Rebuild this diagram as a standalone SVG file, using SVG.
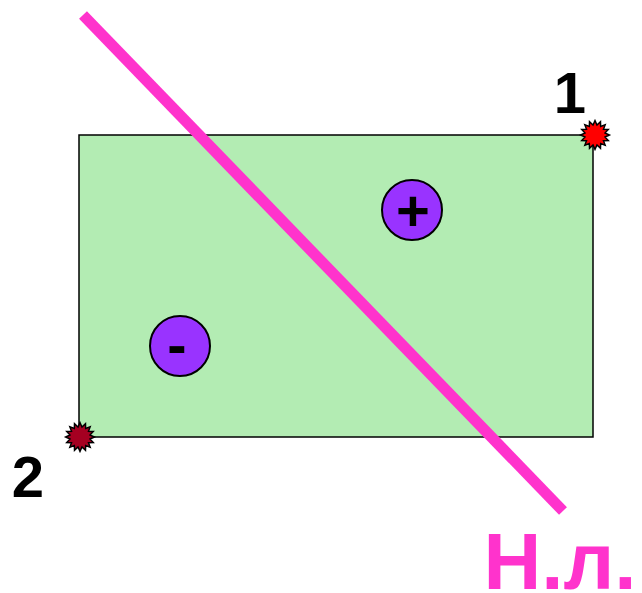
<svg xmlns="http://www.w3.org/2000/svg" width="642" height="593" viewBox="0 0 642 593">
<style>
.lbl{font-family:"Liberation Sans",Arial,sans-serif;font-weight:bold;text-anchor:middle}
.chg{fill:#9933ff;stroke:#000;stroke-width:2}
.star{stroke:#000;stroke-width:1.2}
</style>
<defs>
<polygon id="star" transform="scale(1.2)" points="12,0 8.34,1.66 11.09,4.59 7.07,4.72 8.49,8.49 4.72,7.07 4.59,11.09 1.66,8.34 0,12 -1.66,8.34 -4.59,11.09 -4.72,7.07 -8.49,8.49 -7.07,4.72 -11.09,4.59 -8.34,1.66 -12,0 -8.34,-1.66 -11.09,-4.59 -7.07,-4.72 -8.49,-8.49 -4.72,-7.07 -4.59,-11.09 -1.66,-8.34 0,-12 1.66,-8.34 4.59,-11.09 4.72,-7.07 8.49,-8.49 7.07,-4.72 11.09,-4.59 8.34,-1.66"/>
</defs>
<rect id="plate" x="79" y="135" width="514" height="302" fill="#b3ecb3" stroke="#000" stroke-width="1.5"/>
<g id="plus">
<circle class="chg" cx="412" cy="210" r="30"/>
<text class="lbl" x="413" y="231" font-size="58" fill="#000">+</text>
</g>
<g id="minus">
<circle class="chg" cx="180" cy="346" r="30"/>
<text class="lbl" x="177" y="365" font-size="58" fill="#000">-</text>
</g>
<g id="connectors">
<line x1="83" y1="15" x2="563" y2="511" stroke="#ff33cc" stroke-width="11"/>
</g>
<g id="point1">
<use href="#star" x="595" y="135" class="star" fill="#ff0000"/>
<text class="lbl" x="570" y="113" font-size="58" fill="#000">1</text>
</g>
<g id="point2">
<use href="#star" x="80" y="437" class="star" fill="#a50021"/>
<text class="lbl" x="28" y="497" font-size="58" fill="#000">2</text>
</g>
<g id="label">
<text class="lbl" x="560" y="589" font-size="80" fill="#ff33cc">Н.л.</text>
</g>
</svg>
